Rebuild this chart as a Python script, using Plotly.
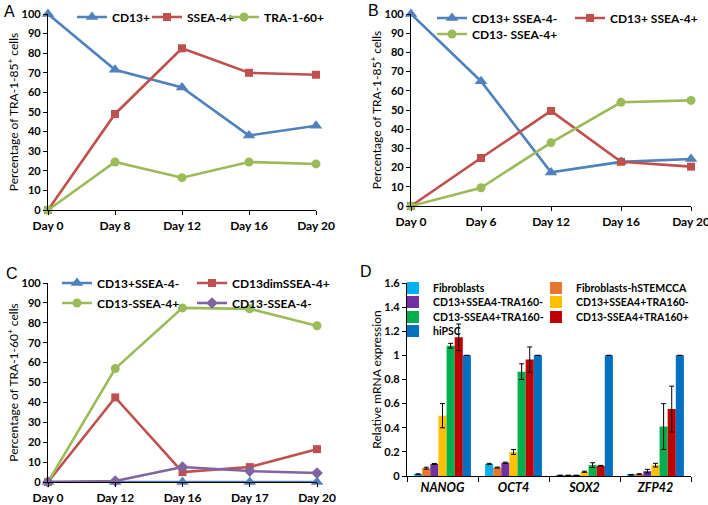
import plotly.graph_objects as go

# ---------------- data ----------------
# Panel A
a_days = ["Day 0", "Day 8", "Day 12", "Day 16", "Day 20"]
a_cd13 = [100, 71.5, 62.5, 38, 43]
a_ssea4 = [0, 49, 82.5, 70, 69]
a_tra160 = [0, 24.5, 16.5, 24.5, 23.5]

# Panel B
b_days = ["Day 0", "Day 6", "Day 12", "Day 16", "Day 20"]
b_cd13p_ssea4n = [100, 65, 17.5, 23, 24.5]
b_cd13p_ssea4p = [0, 25, 49.5, 23, 20.5]
b_cd13n_ssea4p = [0, 9.5, 33, 54, 55]

# Panel C
c_days = ["Day 0", "Day 12", "Day 16", "Day 17", "Day 20"]
c_cd13p_ssea4n = [0, 0, 0, 0, 0]
c_cd13dim_ssea4p = [0, 42.5, 5, 7.5, 16.5]
c_cd13n_ssea4p = [0, 57, 87.5, 87, 78.5]
c_cd13n_ssea4n = [0, 0.5, 7.5, 5.5, 4.5]

# Panel D
d_genes = ["NANOG", "OCT4", "SOX2", "ZFP42"]
d_names = ["Fibroblasts", "Fibroblasts-hSTEMCCA", "CD13+SSEA4-TRA160-",
           "CD13+SSEA4+TRA160-", "CD13-SSEA4+TRA160-", "CD13-SSEA4+TRA160+", "hiPSC"]
d_fibro = [0.015, 0.10, 0.005, 0.01]
d_fibro_err = [0.003, 0.005, 0.002, 0.003]
d_hstem = [0.065, 0.07, 0.005, 0.015]
d_hstem_err = [0.008, 0.004, 0.002, 0.004]
d_p_n_n = [0.10, 0.11, 0.005, 0.04]
d_p_n_n_err = [0.004, 0.005, 0.002, 0.015]
d_p_p_n = [0.50, 0.20, 0.035, 0.09]
d_p_p_n_err = [0.10, 0.02, 0.005, 0.015]
d_n_p_n = [1.08, 0.865, 0.09, 0.41]
d_n_p_n_err = [0.02, 0.065, 0.02, 0.19]
d_n_p_p = [1.15, 0.965, 0.085, 0.555]
d_n_p_p_err = [0.11, 0.105, 0.003, 0.19]
d_hipsc = [1.0, 1.0, 1.0, 1.0]
d_hipsc_err = [0, 0, 0, 0]

# ---------------- style ----------------
W, H = 708, 505
FONT = "Lato, 'Open Sans', sans-serif"
BLUE, RED, GREEN, PURPLE = "#4F81BD", "#C0504D", "#9BBB59", "#8064A2"
D_COLORS = ["#00B0F0", "#E8772E", "#7030A0", "#FFC000", "#00B050", "#C00000", "#0070C0"]


def fx(px):
    return px / W


def fy(py):
    return 1 - py / H


fig = go.Figure()
legends = {}


def add_legend(text_x, center_y, shift=38, size=12):
    key = "legend" if not legends else "legend%d" % (len(legends) + 1)
    legends[key] = dict(x=fx(text_x - shift), y=fy(center_y), xanchor="left",
                        yanchor="middle", orientation="h", entrywidth=160,
                        font=dict(family=FONT, size=size, color="black", weight="bold"),
                        bgcolor="rgba(0,0,0,0)", borderwidth=0, visible=True)
    return key


def line(x, y, name, color, symbol, size, xa, ya, lx, ly):
    fig.add_trace(go.Scatter(
        x=x, y=y, name=name, mode="lines+markers",
        line=dict(color=color, width=2.6),
        marker=dict(symbol=symbol, size=size, color=color),
        xaxis=xa, yaxis=ya, legend=add_legend(lx, ly), cliponaxis=False,
        showlegend=True))


# Panel A
line(a_days, a_cd13, "CD13+", BLUE, "triangle-up", 11, "x", "y", 110, 17)
line(a_days, a_ssea4, "SSEA-4+", RED, "square", 8, "x", "y", 185, 17)
line(a_days, a_tra160, "TRA-1-60+", GREEN, "circle", 9, "x", "y", 262, 17)

# Panel B
line(b_days, b_cd13p_ssea4n, "CD13+ SSEA-4-", BLUE, "triangle-up", 11, "x2", "y2", 470, 18)
line(b_days, b_cd13p_ssea4p, "CD13+ SSEA-4+", RED, "square", 8, "x2", "y2", 608, 18)
line(b_days, b_cd13n_ssea4p, "CD13- SSEA-4+", GREEN, "circle", 9, "x2", "y2", 470, 34)

# Panel C
line(c_days, c_cd13p_ssea4n, "CD13+SSEA-4-", BLUE, "triangle-up", 11, "x3", "y3", 95, 283)
line(c_days, c_cd13dim_ssea4p, "CD13dimSSEA-4+", RED, "square", 8, "x3", "y3", 230, 283)
line(c_days, c_cd13n_ssea4p, "CD13-SSEA-4+", GREEN, "circle", 9, "x3", "y3", 95, 303)
line(c_days, c_cd13n_ssea4n, "CD13-SSEA-4-", PURPLE, "diamond", 9, "x3", "y3", 230, 303)

# Panel D
d_vals = [d_fibro, d_hstem, d_p_n_n, d_p_p_n, d_n_p_n, d_n_p_p, d_hipsc]
d_errs = [d_fibro_err, d_hstem_err, d_p_n_n_err, d_p_p_n_err, d_n_p_n_err, d_n_p_p_err, d_hipsc_err]
d_leg_pos = [(433, 288), (576, 288), (433, 302), (576, 302), (433, 317), (576, 317), (433, 331)]
for name, vals, errs, col, (lx, ly) in zip(d_names, d_vals, d_errs, D_COLORS, d_leg_pos):
    fig.add_trace(go.Bar(
        x=d_genes, y=vals, name=name, marker=dict(color=col, line=dict(width=0)),
        error_y=dict(type="data", array=errs, visible=True, color="black",
                     thickness=1, width=2.5),
        xaxis="x4", yaxis="y4", showlegend=True,
        legend=add_legend(lx, ly, shift=40, size=10.5)))

axis_common = dict(showline=True, linecolor="black", linewidth=1.3, ticks="outside",
                   ticklen=4, tickwidth=1.3, tickcolor="black", showgrid=False,
                   zeroline=False)
xfont = dict(family=FONT, size=12, color="black", weight="bold")
yfont = dict(family=FONT, size=11, color="black", weight="bold")
title_font = dict(family=FONT, size=12, color="black")


def xline(days, x0, x1, y_anchor):
    return dict(axis_common, domain=[fx(x0), fx(x1)], type="category",
                categoryorder="array", categoryarray=days, range=[0, 4],
                anchor=y_anchor, tickfont=xfont)


def yline(y_top, y_bot, x_anchor, title):
    return dict(axis_common, domain=[fy(y_bot), fy(y_top)], range=[0, 100], dtick=10,
                anchor=x_anchor, tickfont=yfont,
                title=dict(text=title, font=title_font, standoff=0))


fig.update_layout(
    width=W, height=H, margin=dict(l=0, r=0, t=0, b=0, autoexpand=False),
    paper_bgcolor="white", plot_bgcolor="white", showlegend=True,
    font=dict(family=FONT, color="black"),
    barmode="group", bargap=0.2, bargroupgap=0,
    xaxis=xline(a_days, 48, 316, "y"),
    yaxis=yline(14, 210, "x", "Percentage of TRA-1-85<sup>+</sup> cells"),
    xaxis2=xline(b_days, 411, 691, "y2"),
    yaxis2=yline(14, 206, "x2", "Percentage of TRA-1-85<sup>+</sup> cells"),
    xaxis3=xline(c_days, 48, 317, "y3"),
    yaxis3=yline(283, 482, "x3", "Percentage of TRA-1-60<sup>+</sup> cells"),
    xaxis4=dict(axis_common, domain=[fx(407), fx(691)], type="category",
                categoryorder="array", categoryarray=d_genes, anchor="y4",
                tickson="boundaries", ticklen=5,
                tickfont=dict(family=FONT, size=12.5, color="black", weight="bold",
                              style="italic")),
    yaxis4=dict(axis_common, domain=[fy(476), fy(283)], range=[0, 1.6], dtick=0.2,
                anchor="x4", tickfont=yfont,
                title=dict(text="Relative mRNA expression", font=title_font, standoff=0)),
    **legends,
)

labels = [("A", 2, 1), ("B", 366, 0), ("C", 4, 263), ("D", 358, 261)]
for t, x, y in labels:
    fig.add_annotation(text=t, x=fx(x), y=fy(y), xref="paper", yref="paper",
                       xanchor="left", yanchor="top", showarrow=False,
                       font=dict(family="Liberation Sans, Arial, sans-serif", size=16,
                                 color="black"))

fig.write_html("out.html",
               config={"displayModeBar": False},
               post_script="document.body.style.margin='0';"
                           "document.body.style.overflow='hidden';")
